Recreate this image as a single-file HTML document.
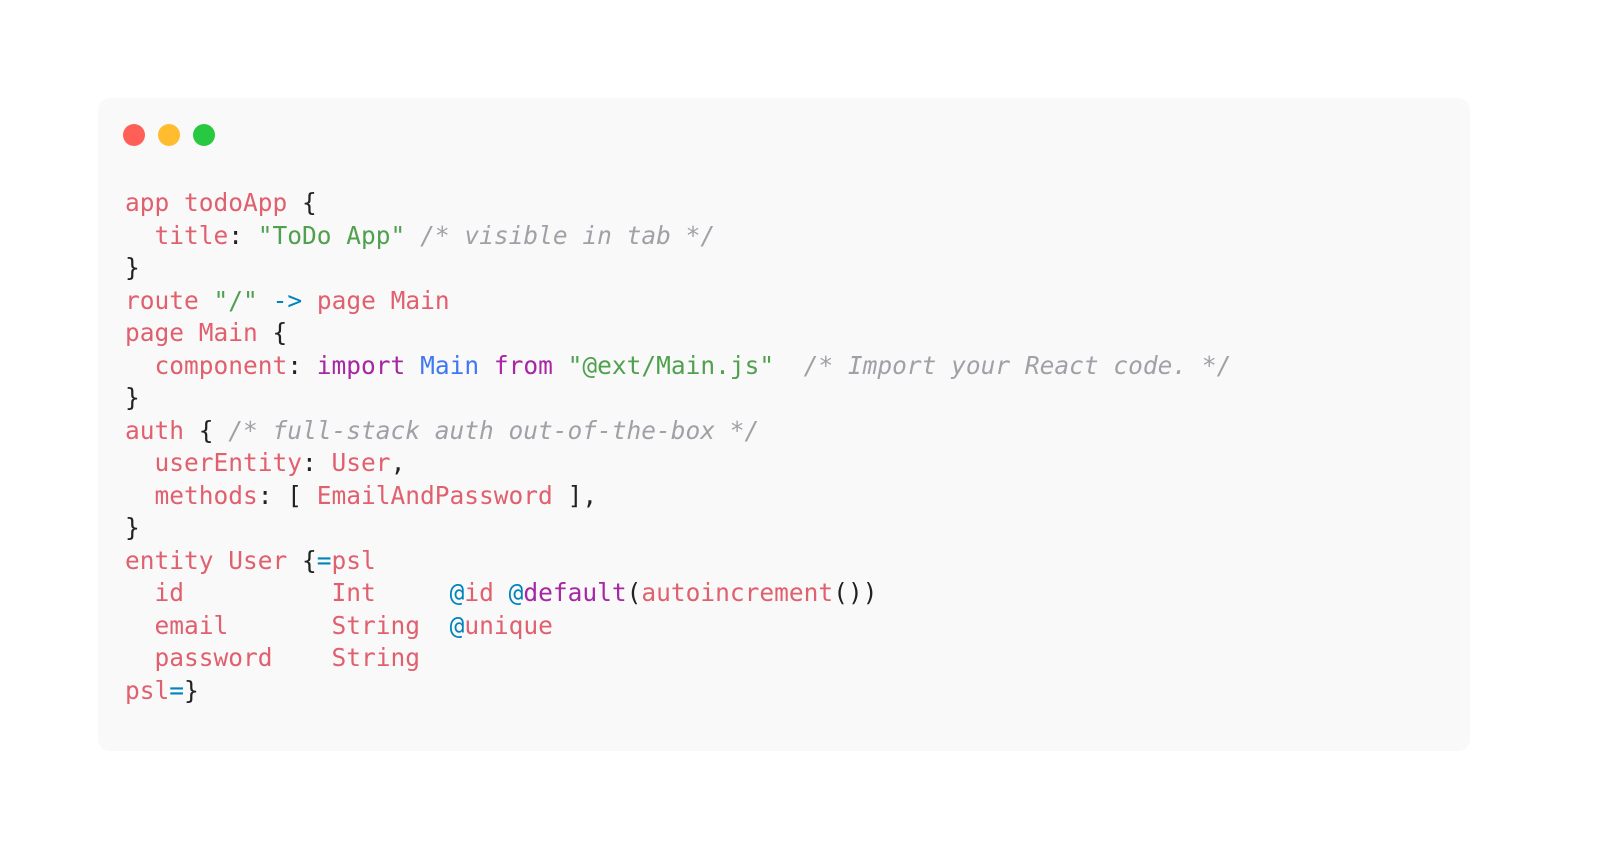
<!DOCTYPE html>
<html><head><style>
body{margin:0;width:1600px;height:866px;background:#fff;position:relative;overflow:hidden}
.box{position:absolute;left:98px;top:98px;width:1372px;height:653px;background:#f9f9f9;border-radius:12px}
.d{position:absolute;top:124px;width:22px;height:22px;border-radius:50%}
pre{position:absolute;left:125px;top:187px;margin:0;font-family:"DejaVu Sans Mono","Liberation Mono",monospace;font-size:24.5px;line-height:32.5px;color:#222}
.r{color:#e0606e}.g{color:#50a14f}.b{color:#0184bc}.bl{color:#4078f2}.p{color:#a626a4}.c{color:#a0a1a7;font-style:italic}
</style></head><body>
<div class="box"></div>
<div class="d" style="left:123px;background:#ff5f57"></div>
<div class="d" style="left:158px;background:#febc2e"></div>
<div class="d" style="left:193px;background:#28c840"></div>
<pre><span class="r">app todoApp</span> {
  <span class="r">title</span>: <span class="g">"ToDo App"</span> <span class="c">/* visible in tab */</span>
}
<span class="r">route</span> <span class="g">"/"</span> <span class="b">-&gt;</span> <span class="r">page Main</span>
<span class="r">page Main</span> {
  <span class="r">component</span>: <span class="p">import</span> <span class="bl">Main</span> <span class="p">from</span> <span class="g">"@ext/Main.js"</span>  <span class="c">/* Import your React code. */</span>
}
<span class="r">auth</span> { <span class="c">/* full-stack auth out-of-the-box */</span>
  <span class="r">userEntity</span>: <span class="r">User</span>,
  <span class="r">methods</span>: [ <span class="r">EmailAndPassword</span> ],
}
<span class="r">entity User</span> {<span class="b">=</span><span class="r">psl</span>
  <span class="r">id</span>          <span class="r">Int</span>     <span class="b">@</span><span class="r">id</span> <span class="b">@</span><span class="p">default</span>(<span class="r">autoincrement</span>())
  <span class="r">email</span>       <span class="r">String</span>  <span class="b">@</span><span class="r">unique</span>
  <span class="r">password</span>    <span class="r">String</span>
<span class="r">psl</span><span class="b">=</span>}</pre>
</body></html>
